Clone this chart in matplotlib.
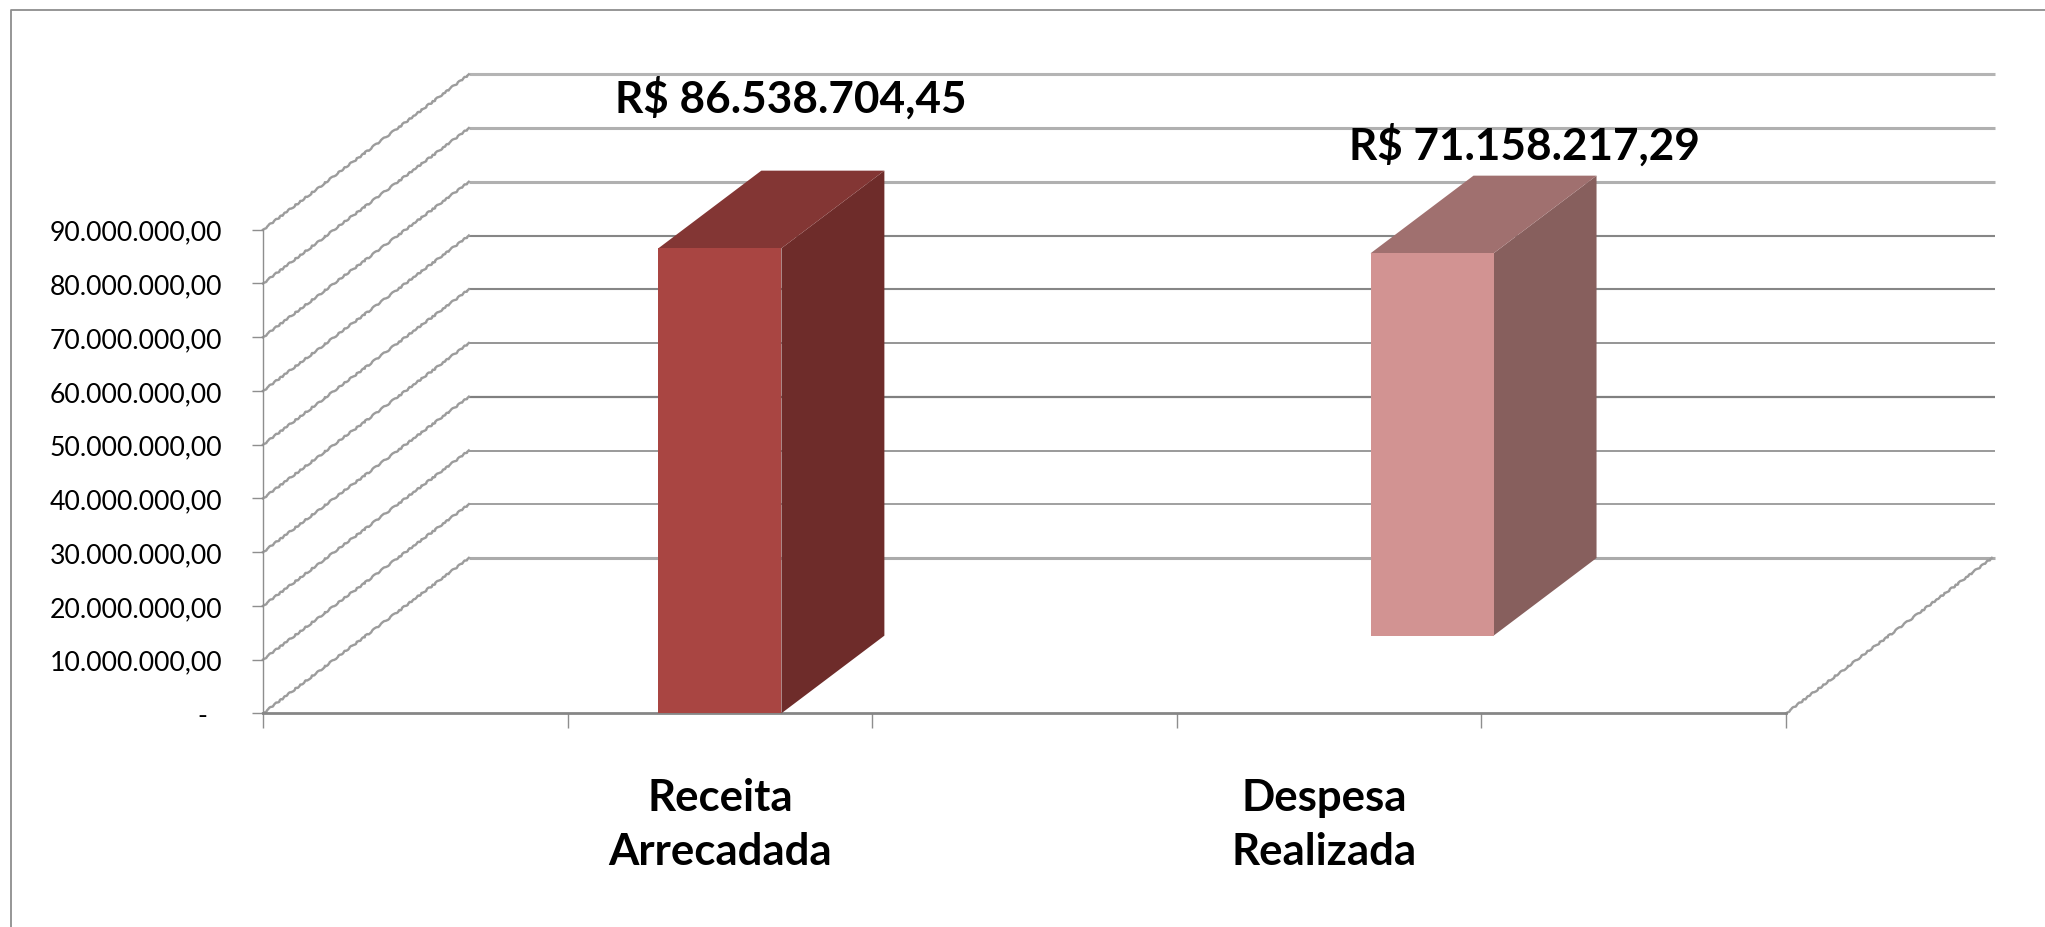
#!/usr/bin/env python3
import matplotlib
matplotlib.use('Agg')
import matplotlib.pyplot as plt
from matplotlib.lines import Line2D

W, H = 2045, 928

categories = ['Receita\nArrecadada', 'Despesa\nRealizada']
slots = [1.5, 3.5]
label_slots = [1.5, 3.484]
values = [86538704.45, 71158217.29]
value_labels = ['R$ 86.538.704,45', 'R$ 71.158.217,29']
y_ticks = [0, 10e6, 20e6, 30e6, 40e6, 50e6, 60e6, 70e6, 80e6, 90e6]
y_labels = ['-  ', '10.000.000,00', '20.000.000,00', '30.000.000,00',
            '40.000.000,00', '50.000.000,00', '60.000.000,00',
            '70.000.000,00', '80.000.000,00', '90.000.000,00']
x_edges = [0, 1, 2, 3, 4, 5]

# the fake 3D: how far the back wall is shifted from the front, in data units
DEPTH_X = 0.676
DEPTH_Y = 28.9e6
BAR_W = 0.404
# each bar sits in its own row, front half / back half
rows = [(0.0, 0.5), (0.5, 1.0)]
front_cols = ['#A94542', '#D29392']
side_cols = ['#6E2C2A', '#875F5D']
top_cols = ['#833634', '#A0706F']
label_offs = [(71, 137), (195, 172)]
# back wall lines come out uneven in the original
wall_cols = ['#ABABAB', '#A0A0A0', '#9A9A9A', '#808080', '#8C8C8C', '#868686',
             '#868686', '#B0B0B0', '#B0B0B0', '#B4B4B4']
wall_lws = [2.2, 1.4, 1.4, 1.6, 1.3, 1.5, 1.5, 2.2, 2.2, 2.2]

plt.rcParams['font.family'] = ['Lato', 'DejaVu Sans']

fig = plt.figure(figsize=(W / 100, H / 100), dpi=100, facecolor='white')
ax = fig.add_axes([263 / W, (H - 714.3) / H, 1523 / W, 483.6 / H])
ax.set_xlim(0, 5)
ax.set_ylim(0, 90e6)
ax.patch.set_visible(False)

for s in ['top', 'right']:
    ax.spines[s].set_visible(False)
ax.spines['left'].set_color('#8E8E8E')
ax.spines['left'].set_linewidth(1.0)
ax.spines['bottom'].set_color('#868686')
ax.spines['bottom'].set_linewidth(2.0)

ax.set_yticks(y_ticks, labels=y_labels)
ax.set_xticks(x_edges, labels=[''] * len(x_edges))
ax.set_xticks(label_slots, labels=categories, minor=True)
ax.tick_params(axis='y', length=8, width=1, color='#8E8E8E', pad=21.5,
               labelsize=19.2, labelcolor='black')
ax.tick_params(axis='x', which='major', length=11, width=1, color='#8E8E8E')
ax.tick_params(axis='x', which='minor', length=0, pad=46, labelsize=31.5)
for t in ax.get_xticklabels(minor=True):
    t.set_fontweight('bold')
    t.set_linespacing(1.42)

# walls
for v, c, lw in zip(y_ticks, wall_cols, wall_lws):
    ax.plot([DEPTH_X, 5 + DEPTH_X + 0.01], [v + DEPTH_Y] * 2, color=c, lw=lw,
            clip_on=False, zorder=1, solid_capstyle='butt')
    diag, = ax.plot([0, DEPTH_X], [v, v + DEPTH_Y], color='#9C9C9C', lw=1.7,
                    clip_on=False, zorder=1)
    diag.set_sketch_params(0.7, 10, 4)
floor, = ax.plot([5, 5 + DEPTH_X], [0, DEPTH_Y], color='#9C9C9C', lw=1.7,
                 clip_on=False, zorder=1)
floor.set_sketch_params(0.7, 10, 4)

# bars, back one first
for i in [1, 0]:
    x0 = slots[i] - BAR_W / 2
    x1 = slots[i] + BAR_W / 2
    d0, d1 = rows[i]
    dx0, dy0 = d0 * DEPTH_X, d0 * DEPTH_Y
    dx1, dy1 = d1 * DEPTH_X, d1 * DEPTH_Y
    v = values[i]
    z = 2 + (1 - i)
    ax.fill([x1 + dx0, x1 + dx1, x1 + dx1, x1 + dx0],
            [dy0, dy1, v + dy1, v + dy0],
            color=side_cols[i], lw=0, clip_on=False, zorder=z)
    ax.fill([x0 + dx0, x1 + dx0, x1 + dx1, x0 + dx1],
            [v + dy0, v + dy0, v + dy1, v + dy1],
            color=top_cols[i], lw=0, clip_on=False, zorder=z)
    ax.fill([x0 + dx0, x1 + dx0, x1 + dx0, x0 + dx0],
            [dy0, dy0, v + dy0, v + dy0],
            color=front_cols[i], lw=0, clip_on=False, zorder=z)
    ax.annotate(value_labels[i], xy=(slots[i], v), xytext=label_offs[i],
                textcoords='offset pixels', ha='center', va='baseline',
                fontsize=31.8, fontweight='bold', color='black',
                annotation_clip=False, zorder=5)

# outer frame, only top and left are in view
fig.add_artist(Line2D([11 / W, 11 / W, 1], [0, 1 - 11 / H, 1 - 11 / H],
                      color='#8E8E8E', lw=1.3))

fig.savefig('out.png', dpi=100)
